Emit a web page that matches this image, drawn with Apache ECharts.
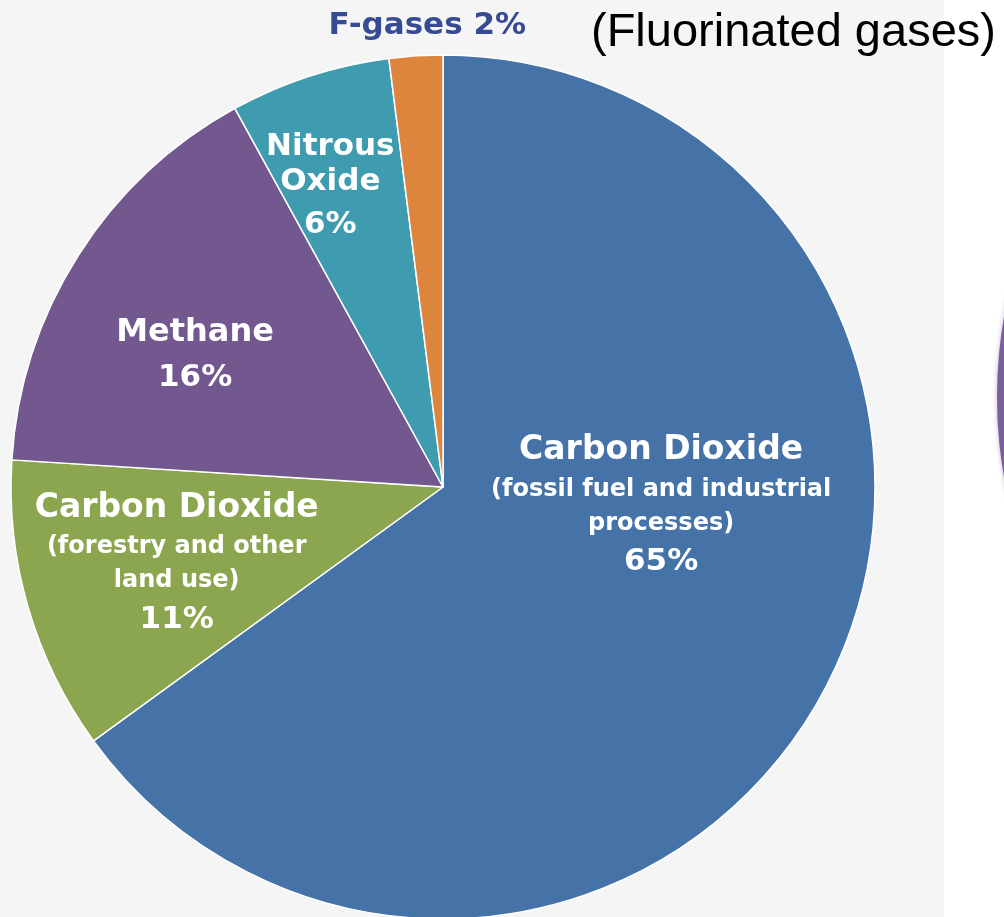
<!DOCTYPE html>
<html>
<head>
<meta charset="utf-8">
<script src="https://cdn.jsdelivr.net/npm/echarts@6/dist/echarts.min.js"></script>
<style>
  html, body { margin: 0; padding: 0; background: #ffffff; }
  #chart { width: 1004px; height: 917px; }
</style>
</head>
<body>
<div id="chart"></div>
<script>
// Global greenhouse gas emissions by gas (share of total)
const gasKeys = ['co2Fossil', 'co2Land', 'methane', 'nitrous', 'fgases'];
const gasTitles = ['Carbon Dioxide', 'Carbon Dioxide', 'Methane', 'Nitrous\nOxide', 'F-gases'];
const gasNotes = ['(fossil fuel and industrial\nprocesses)', '(forestry and other\nland use)', '', '', ''];
const gasShares = [65, 11, 16, 6, 2];
const subtitleText = '(Fluorinated gases)';

const sliceColors = {
  co2Fossil: '#4573a8',
  co2Land: '#8ba64f',
  methane: '#72588f',
  nitrous: '#3f9bb0',
  fgases: '#de853d'
};

// label placement relative to each slice's default inside anchor
const labelOffsets = {
  co2Fossil: [23, -80],
  co2Land: [-56, 16],
  methane: [-63, -14],
  nitrous: [-45, -89],
  fgases: [-2, -242]
};

const FONT = 'DejaVu Sans';

function labelFor(i) {
  const key = gasKeys[i];
  const pct = gasShares[i] + '%';
  if (key === 'fgases') {
    return gasTitles[i] + ' ' + pct;
  }
  const titleTag = key === 'nitrous' ? 'n' : key === 'methane' ? 'm' : 't';
  const lines = gasTitles[i].split('\n').map(s => '{' + titleTag + '|' + s + '}');
  if (gasNotes[i]) {
    gasNotes[i].split('\n').forEach(s => lines.push('{s|' + s + '}'));
  }
  lines.push('{' + (key === 'methane' ? 'pm' : key === 'nitrous' ? 'pn' : 'p') + '|' + pct + '}');
  return lines.join('\n');
}

const pieData = gasKeys.map((key, i) => {
  const item = {
    name: key,
    value: gasShares[i],
    itemStyle: { color: sliceColors[key] },
    label: {
      offset: labelOffsets[key],
      formatter: labelFor(i)
    }
  };
  if (key === 'fgases') {
    item.label.color = '#364b93';
    item.label.fontSize = 31;
    item.label.fontWeight = 'bold';
    item.label.fontFamily = FONT;
  }
  return item;
});

const chart = echarts.init(document.getElementById('chart'), null, { renderer: 'canvas' });

const white = '#ffffff';
chart.setOption({
  animation: false,
  backgroundColor: '#ffffff',
  graphic: [
    {
      type: 'rect',
      z: -10,
      silent: true,
      shape: { x: 0, y: 0, width: 944, height: 917 },
      style: { fill: '#f5f5f5' }
    },
    {
      type: 'circle',
      z: -5,
      silent: true,
      shape: { cx: 1460, cy: 397, r: 463 },
      style: { fill: '#7a5f9c', shadowBlur: 5, shadowColor: 'rgba(122,95,156,0.45)' }
    },
    {
      type: 'text',
      z: 10,
      left: 591,
      top: 10,
      style: {
        text: subtitleText,
        fill: '#000000',
        font: '47px "Liberation Sans", Arial, sans-serif'
      }
    }
  ],
  series: [
    {
      type: 'pie',
      center: [443, 487],
      radius: [0, 432],
      startAngle: 90,
      clockwise: true,
      avoidLabelOverlap: false,
      itemStyle: { borderColor: '#ffffff', borderWidth: 1.5 },
      label: {
        show: true,
        position: 'inside',
        color: white,
        fontFamily: FONT,
        fontWeight: 'bold',
        align: 'center',
        rich: {
          t: { fontFamily: FONT, fontWeight: 'bold', fontSize: 33, lineHeight: 44, color: white },
          m: { fontFamily: FONT, fontWeight: 'bold', fontSize: 32, lineHeight: 44, color: white },
          n: { fontFamily: FONT, fontWeight: 'bold', fontSize: 31, lineHeight: 35, color: white },
          s: { fontFamily: FONT, fontWeight: 'bold', fontSize: 24, lineHeight: 34, color: white },
          p: { fontFamily: FONT, fontWeight: 'bold', fontSize: 31, lineHeight: 44, color: white },
          pm: { fontFamily: FONT, fontWeight: 'bold', fontSize: 31, lineHeight: 46, color: white },
          pn: { fontFamily: FONT, fontWeight: 'bold', fontSize: 31, lineHeight: 51, color: white }
        }
      },
      labelLine: { show: false },
      emphasis: { disabled: true },
      data: pieData
    }
  ]
});
</script>
</body>
</html>
